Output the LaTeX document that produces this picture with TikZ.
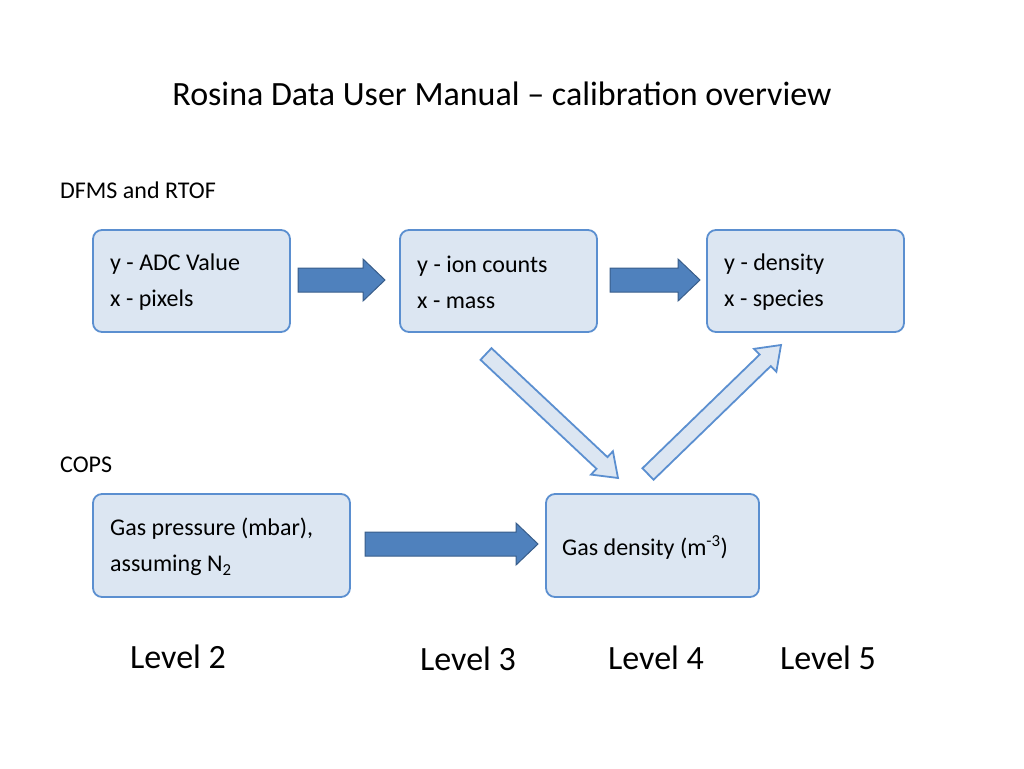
\documentclass[tikz,border=0pt]{standalone}
\usepackage{fontspec}
\setmainfont{Carlito}
\usetikzlibrary{calc}
\definecolor{boxfill}{HTML}{DCE6F2}
\definecolor{boxline}{HTML}{5B8FD0}
\definecolor{arrfill}{HTML}{4F81BD}
\definecolor{arrline}{HTML}{385D8A}
\newcommand\barrow[6]{%
 \draw[#6] let \p1=($(#2)-(#1)$), \n1={atan2(\y1,\x1)}, \n2={veclen(\x1,\y1)} in
  [shift={(#1)},rotate=\n1] (0pt,-#3pt) -- ({\n2-#5pt},-#3pt) -- ({\n2-#5pt},-#4pt) -- (\n2,0pt)
  -- ({\n2-#5pt},#4pt) -- ({\n2-#5pt},#3pt) -- (0pt,#3pt) -- cycle;}
\begin{document}
\begin{tikzpicture}[x=1pt,y=-1pt,
  box/.style={draw=boxline,line width=1.8pt,fill=boxfill,rounded corners=9pt},
  txt/.style={font=\fontsize{24}{36}\selectfont,align=left,anchor=west,inner sep=0},
  lvl/.style={font=\fontsize{34}{40}\selectfont,inner sep=0},
  blk/.style={draw=arrline,line width=1pt,fill=arrfill},
  hol/.style={draw=boxline,line width=1.8pt,fill=boxfill,line join=miter}]
\useasboundingbox (0,0) rectangle (1024,768);
\node[font=\fontsize{34}{40}\selectfont] (title) at (502,94) {Rosina Data User Manual -- calibration overview};
\node[txt] (dfms) at (60,190) {DFMS and RTOF};
\node[txt] (cops) at (60,465) {COPS};
\draw[box] (93,230) rectangle (290,332);
\draw[box] (400,230) rectangle (597,332);
\draw[box] (707,230) rectangle (904,332);
\draw[box] (93,494) rectangle (350,597);
\draw[box] (546,494) rectangle (759,597);
\node[txt] (a) at (110,282) {y - ADC Value\\x - pixels};
\node[txt] (b) at (417,282) {y - ion counts\\x - mass};
\node[txt] (c) at (724,282) {y - density\\x - species};
\node[txt] (d) at (110,547) {Gas pressure (mbar),\\assuming N\textsubscript{2}};
\node[txt] (e) at (562,547) {Gas density (m\textsuperscript{-3})};
\coordinate (s1) at (298,280); \coordinate (t1) at (385,280);
\coordinate (s2) at (610,280); \coordinate (t2) at (700,280);
\coordinate (s3) at (365,544); \coordinate (t3) at (538,544);
\coordinate (s4) at (486,354); \coordinate (t4) at (618,478);
\coordinate (s5) at (648,474); \coordinate (t5) at (781,345);
\barrow{s1}{t1}{12}{21}{22}{blk}
\barrow{s2}{t2}{12}{21}{22}{blk}
\barrow{s3}{t3}{12}{21}{22}{blk}
\barrow{s4}{t4}{8}{16}{22}{hol}
\barrow{s5}{t5}{8}{16}{22}{hol}
\node[lvl] (l2) at (178,657) {Level 2};
\node[lvl] (l3) at (468,659) {Level 3};
\node[lvl] (l4) at (656,658) {Level 4};
\node[lvl] (l5) at (828,658) {Level 5};
\end{tikzpicture}
\end{document}
